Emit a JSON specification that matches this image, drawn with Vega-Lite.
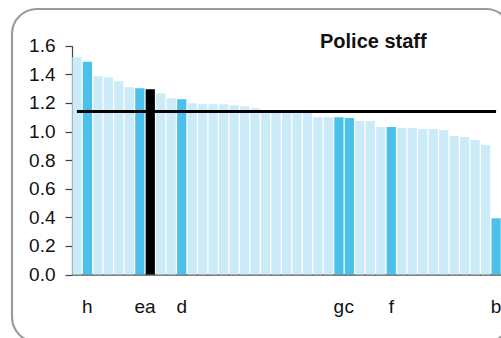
{
  "$schema": "https://vega.github.io/schema/vega-lite/v6.json",
  "width": 499,
  "height": 333,
  "autosize": {"type": "none"},
  "padding": {"left": 12, "top": 9, "right": -10, "bottom": -4},
  "background": "white",
  "view": {"stroke": "#9b9b9b", "strokeWidth": 2.2, "cornerRadius": 25, "fill": "white"},
  "config": {
    "font": "Liberation Sans",
    "axis": {"grid": false, "labelFont": "Liberation Sans", "labelFontSize": 19, "labelColor": "#111111", "title": null}
  },
  "data": {
    "values": [
      {"k": "01", "v": 1.52, "g": "other"},
      {"k": "02:h", "v": 1.487, "g": "highlight"},
      {"k": "03", "v": 1.387, "g": "other"},
      {"k": "04", "v": 1.38, "g": "other"},
      {"k": "05", "v": 1.352, "g": "other"},
      {"k": "06", "v": 1.31, "g": "other"},
      {"k": "07:e", "v": 1.303, "g": "highlight"},
      {"k": "08:a", "v": 1.296, "g": "selected"},
      {"k": "09", "v": 1.268, "g": "other"},
      {"k": "10", "v": 1.233, "g": "other"},
      {"k": "11:d", "v": 1.226, "g": "highlight"},
      {"k": "12", "v": 1.198, "g": "other"},
      {"k": "13", "v": 1.191, "g": "other"},
      {"k": "14", "v": 1.191, "g": "other"},
      {"k": "15", "v": 1.191, "g": "other"},
      {"k": "16", "v": 1.184, "g": "other"},
      {"k": "17", "v": 1.177, "g": "other"},
      {"k": "18", "v": 1.163, "g": "other"},
      {"k": "19", "v": 1.15, "g": "other"},
      {"k": "20", "v": 1.15, "g": "other"},
      {"k": "21", "v": 1.142, "g": "other"},
      {"k": "22", "v": 1.142, "g": "other"},
      {"k": "23", "v": 1.13, "g": "other"},
      {"k": "24", "v": 1.1, "g": "other"},
      {"k": "25", "v": 1.1, "g": "other"},
      {"k": "26:g", "v": 1.1, "g": "highlight"},
      {"k": "27:c", "v": 1.094, "g": "highlight"},
      {"k": "28", "v": 1.073, "g": "other"},
      {"k": "29", "v": 1.073, "g": "other"},
      {"k": "30", "v": 1.031, "g": "other"},
      {"k": "31:f", "v": 1.031, "g": "highlight"},
      {"k": "32", "v": 1.024, "g": "other"},
      {"k": "33", "v": 1.024, "g": "other"},
      {"k": "34", "v": 1.017, "g": "other"},
      {"k": "35", "v": 1.017, "g": "other"},
      {"k": "36", "v": 1.01, "g": "other"},
      {"k": "37", "v": 0.968, "g": "other"},
      {"k": "38", "v": 0.961, "g": "other"},
      {"k": "39", "v": 0.94, "g": "other"},
      {"k": "40", "v": 0.905, "g": "other"},
      {"k": "41:b", "v": 0.393, "g": "highlight"}
    ]
  },
  "encoding": {
    "x": {
      "field": "k", "type": "nominal", "sort": null,
      "scale": {"range": [60, 489], "paddingInner": 0.12, "paddingOuter": 0.03},
      "axis": {
        "orient": "bottom", "offset": -67.5, "ticks": false, "labelAngle": 0,
        "domainColor": "#555555", "domainWidth": 1.5, "labelPadding": 23,
        "labelExpr": "indexof(datum.value, ':') > 0 ? split(datum.value, ':')[1] : ''"
      }
    }
  },
  "layer": [
    {
      "mark": {"type": "bar"},
      "encoding": {
        "y": {
          "field": "v", "type": "quantitative",
          "scale": {"domain": [0, 1.6], "range": [265.5, 36.7], "nice": false, "zero": true},
          "axis": {
            "offset": -60, "values": [0, 0.2, 0.4, 0.6, 0.8, 1.0, 1.2, 1.4, 1.6], "format": ".1f",
            "tickSize": 7, "tickColor": "#444444", "domainColor": "#444444", "domainWidth": 1.2, "tickWidth": 1.2,
            "labelPadding": 10
          }
        },
        "color": {
          "field": "g", "type": "nominal", "legend": null,
          "scale": {"domain": ["other", "highlight", "selected"], "range": ["#ccebf8", "#4bc0ea", "#000000"]}
        }
      }
    },
    {
      "data": {"values": [{"level": 1.139}]},
      "mark": {"type": "rule", "color": "#000000", "strokeWidth": 3},
      "encoding": {
        "x": {"datum": "01"},
        "x2": {"datum": "41:b"},
        "y": {"field": "level", "type": "quantitative"}
      }
    },
    {
      "data": {"values": [{"title": "Police staff", "pos": 1.583}]},
      "mark": {"type": "text", "fontSize": 20, "fontWeight": "bold", "font": "Liberation Sans", "color": "#111111", "baseline": "alphabetic", "align": "center", "dx": 3},
      "encoding": {
        "text": {"field": "title"},
        "x": {"datum": "29"},
        "y": {"field": "pos", "type": "quantitative"}
      }
    }
  ]
}
